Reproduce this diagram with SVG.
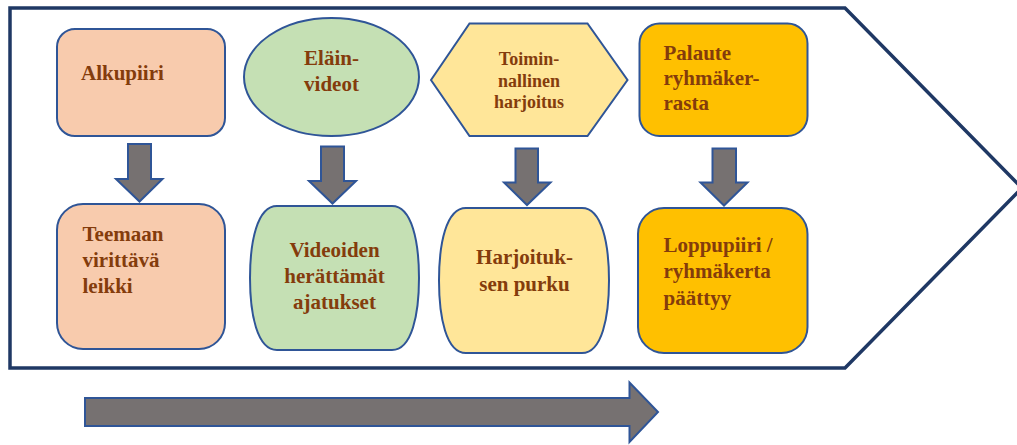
<svg xmlns="http://www.w3.org/2000/svg" width="1017" height="445" viewBox="0 0 1017 445">
<style>
.n{stroke:#2F5597;stroke-width:2}
text{font-family:'Liberation Serif','DejaVu Serif',serif;font-weight:bold;font-size:21px;fill:#843C0C}
.s{font-size:18px}
.c{text-anchor:middle}
.ar{fill:#767171;stroke:#2F5597;stroke-width:2}
</style>
<rect width="1017" height="445" fill="#ffffff"/>
<g id="chevron">
<polygon points="10,8 845,8 1022,188 845,368 10,368" fill="#ffffff" stroke="#1F3864" stroke-width="3.5" stroke-linejoin="miter"/>
</g>
<g id="alkupiiri" font-family="Liberation Serif, serif">
<rect class="n" x="57" y="29" width="168" height="107" rx="18" fill="#F8CBAD"/>
<text x="81" y="80">Alkupiiri</text>
</g>
<g id="elainvideot">
<ellipse class="n" cx="331.5" cy="77" rx="87.5" ry="59" fill="#C5E0B4"/>
<text class="c" x="331.5" y="65">Eläin-</text>
<text class="c" x="331.5" y="90.5">videot</text>
</g>
<g id="harjoitus">
<polygon class="n" points="431,80 469.5,23.5 587.5,23.5 627.5,80 587.5,136 469.5,136" fill="#FFE699"/>
<text class="s c" x="529" y="65">Toimin-</text>
<text class="s c" x="529" y="87">nallinen</text>
<text class="s c" x="529" y="108">harjoitus</text>
</g>
<g id="palaute">
<rect class="n" x="639.5" y="23.5" width="168" height="112.5" rx="20" fill="#FFC000"/>
<text x="663.5" y="60">Palaute</text>
<text x="663.5" y="85">ryhmäker-</text>
<text x="663.5" y="110">rasta</text>
</g>
<g id="teemaan">
<rect class="n" x="57" y="204" width="168" height="145" rx="26" fill="#F8CBAD"/>
<text x="82.5" y="240.5">Teemaan</text>
<text x="82.5" y="266.5">virittävä</text>
<text x="82.5" y="293">leikki</text>
</g>
<g id="videoiden">
<path class="n" d="M277,206 L392,206 C412,206 419,242 419,278 C419,314 412,350 392,350 L277,350 C257,350 250,314 250,278 C250,242 257,206 277,206 Z" fill="#C5E0B4"/>
<text class="c" x="334.5" y="257">Videoiden</text>
<text class="c" x="334.5" y="283">herättämät</text>
<text class="c" x="334.5" y="309">ajatukset</text>
</g>
<g id="purku">
<path class="n" d="M466,208 L582,208 C602,208 609,244 609,280.5 C609,317 602,353 582,353 L466,353 C446,353 439,317 439,280.5 C439,244 446,208 466,208 Z" fill="#FFE699"/>
<text class="c" x="524.5" y="264">Harjoituk-</text>
<text class="c" x="524.5" y="290.5">sen purku</text>
</g>
<g id="loppupiiri">
<rect class="n" x="638" y="208" width="169.5" height="145" rx="26" fill="#FFC000"/>
<text x="663.5" y="251.5">Loppupiiri /</text>
<text x="663.5" y="278">ryhmäkerta</text>
<text x="663.5" y="305">päättyy</text>
</g>
<g id="connectors">
<polygon class="ar" points="128,144 151,144 151,179 162.5,179 139.5,201.5 116,179 128,179"/>
<polygon class="ar" points="321,146.5 344,146.5 344,181 356,181 332.5,203.5 309,181 321,181"/>
<polygon class="ar" points="515.5,148.5 538,148.5 538,182.5 550.5,182.5 527,205 504,182.5 515.5,182.5"/>
<polygon class="ar" points="712.5,148.5 736,148.5 736,182.5 747.5,182.5 724,205.5 700.5,182.5 712.5,182.5"/>
<polygon class="ar" points="85,398 629.5,398 629.5,382.5 658,412 629.5,442 629.5,426 85,426"/>
</g>
</svg>
